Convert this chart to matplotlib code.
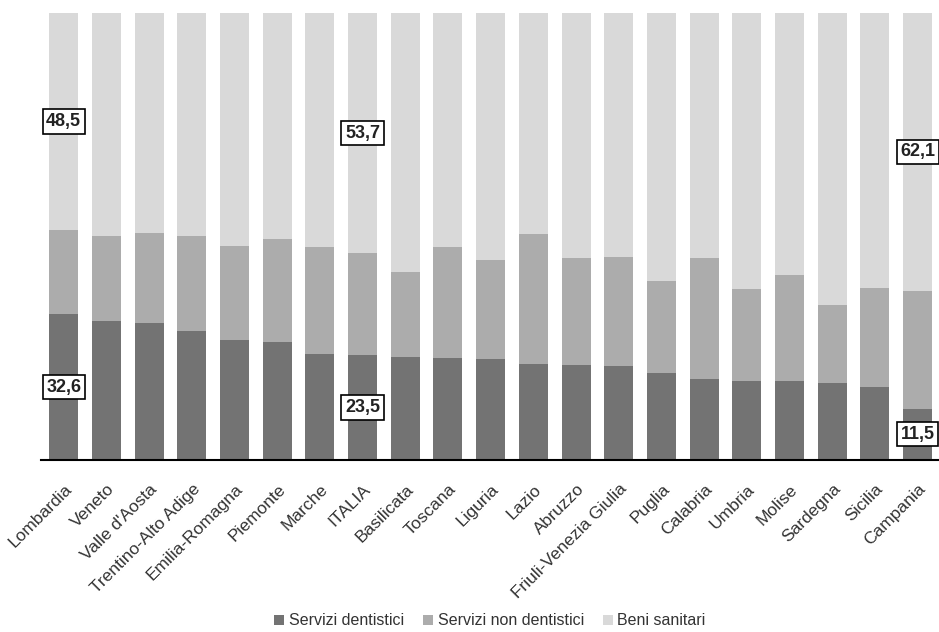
import numpy as np
import matplotlib.pyplot as plt
from matplotlib.transforms import ScaledTranslation

regioni = ["Lombardia", "Veneto", "Valle d'Aosta", "Trentino-Alto Adige",
           "Emilia-Romagna", "Piemonte", "Marche", "ITALIA", "Basilicata",
           "Toscana", "Liguria", "Lazio", "Abruzzo", "Friuli-Venezia Giulia",
           "Puglia", "Calabria", "Umbria", "Molise", "Sardegna", "Sicilia",
           "Campania"]

# quote percentuali della spesa
dentistici = [32.6, 31.2, 30.7, 28.9, 26.9, 26.4, 23.7, 23.5, 23.0, 22.8, 22.6,
              21.4, 21.2, 21.0, 19.4, 18.1, 17.7, 17.6, 17.2, 16.3, 11.5]
beni = [48.5, 49.9, 49.2, 49.9, 52.1, 50.6, 52.3, 53.7, 57.9, 52.3, 55.2,
        49.4, 54.8, 54.6, 59.9, 54.8, 61.7, 58.6, 65.3, 61.5, 62.1]
non_dentistici = [round(100 - d - b, 1) for d, b in zip(dentistici, beni)]

# barre con etichetta (indice regione)
etichettate = [0, 7, 20]

plt.rcParams['font.family'] = ['Liberation Sans', 'DejaVu Sans']

c_dent = '#737373'
c_non = '#acacac'
c_beni = '#d9d9d9'

fig = plt.figure(figsize=(9.39, 6.32), dpi=100)
ax = fig.add_axes([0.0437, 0.2722, 0.9563, 0.7072])

x = np.arange(len(regioni))
d = np.array(dentistici)
n = np.array(non_dentistici)
b = np.array(beni)
w = 0.68
ax.bar(x, d, w, color=c_dent, label='Servizi dentistici')
ax.bar(x, n, w, bottom=d, color=c_non, label='Servizi non dentistici')
ax.bar(x, b, w, bottom=d + n, color=c_beni, label='Beni sanitari')

box = dict(boxstyle='square,pad=0.2', facecolor='white', edgecolor='black', linewidth=1.2)
for i in etichettate:
    for val, y in [(d[i], d[i] / 2), (b[i], 100 - b[i] / 2)]:
        ax.text(i, y, f"{val:.1f}".replace('.', ','), ha='center', va='center',
                fontsize=13, fontweight='bold', color='#222222', bbox=box, clip_on=False)

ax.set_xlim(-0.53, 20.5)
ax.set_ylim(0, 100)
ax.set_xticks(x)
ax.set_xticklabels(regioni, rotation=45, ha='right', va='top',
                   fontsize=12.5, color='#333333')
ax.tick_params(axis='x', length=0, pad=15.5)
sposta = ScaledTranslation(11 / 100, 0, fig.dpi_scale_trans)
for lab in ax.get_xticklabels():
    lab.set_transform(lab.get_transform() + sposta)
ax.set_yticks([])
for s in ['top', 'right', 'left']:
    ax.spines[s].set_visible(False)
ax.spines['bottom'].set_linewidth(1.5)
ax.spines['bottom'].set_color('black')

ax.legend(loc='center', bbox_to_anchor=(0.5, -0.36), ncol=3, frameon=False,
          fontsize=11.5, handlelength=0.6, handleheight=0.6, handletextpad=0.3,
          columnspacing=1.2, labelcolor='#333333')

fig.savefig('out.png', dpi=100)
